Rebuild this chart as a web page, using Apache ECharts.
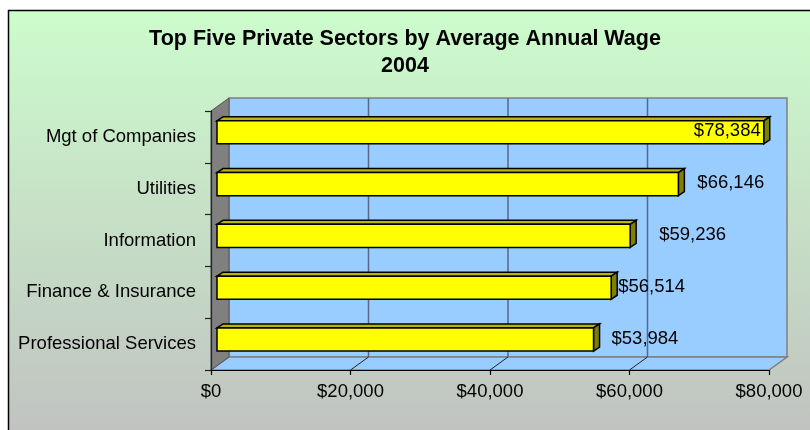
<!DOCTYPE html>
<html>
<head>
<meta charset="utf-8">
<script src="https://cdn.jsdelivr.net/npm/echarts@6/dist/echarts.min.js"></script>
<style>
html,body{margin:0;padding:0;background:#fff;}
#chart{width:810px;height:430px;}
</style>
</head>
<body>
<div id="chart"></div>
<script>
// ---- data ----
const categories = ['Mgt of Companies', 'Utilities', 'Information', 'Finance & Insurance', 'Professional Services'];
const wages = [78384, 66146, 59236, 56514, 53984];
const titleLines = ['Top Five Private Sectors by Average Annual Wage', '2004'];
const xTicks = { min: 0, max: 80000, interval: 20000 };

// ---- styling ----
const FONT = '"Liberation Sans", Arial, sans-serif';
const DEPTH = [18, -13];          // 3D wall depth
const BAR_SHIFT = [6, -4.6];      // bar face offset inside the depth
const BAR_DEPTH = [6, -4];        // bar box depth
const fmt = v => '$' + v.toLocaleString('en-US');
// label placement per bar (Excel style): 'in' = inside right, number = gap right of bar
const labelPlace = ['in', 19, 29, 7, 18];

const chart = echarts.init(document.getElementById('chart'), null, { renderer: 'canvas' });

const option = {
  animation: false,
  backgroundColor: '#ffffff',
  title: {
    text: titleLines.join('\n'),
    left: 'center',
    top: 26,
    padding: 0,
    textStyle: { fontFamily: FONT, fontWeight: 'bold', fontSize: 21.5, lineHeight: 27, color: '#000' }
  },
  graphic: [{
    type: 'rect',
    z: -100,
    shape: { x: 8.5, y: 10.5, width: 820, height: 440 },
    style: {
      fill: { type: 'linear', x: 0, y: 0, x2: 0, y2: 1,
        colorStops: [{ offset: 0, color: '#CCFCCC' }, { offset: 1, color: '#C0C0C0' }] },
      stroke: '#000', lineWidth: 1.5
    }
  }],
  grid: { left: 211, right: 41, top: 111, bottom: 60, containLabel: false, outerBoundsMode: 'none' },
  xAxis: {
    type: 'value',
    min: xTicks.min, max: xTicks.max, interval: xTicks.interval,
    axisLine: { show: true, lineStyle: { color: '#000', width: 1.2 } },
    axisTick: { show: true, length: 5, lineStyle: { color: '#000', width: 1.2 } },
    splitLine: { show: false },
    axisLabel: { margin: 12, fontFamily: FONT, fontSize: 18.5, color: '#000', formatter: v => fmt(v) }
  },
  yAxis: {
    type: 'category',
    data: categories,
    inverse: true,
    axisLine: { show: true, lineStyle: { color: '#222', width: 1.2 } },
    axisTick: { show: true, length: 6, lineStyle: { color: '#222', width: 1.2 } },
    splitLine: { show: false },
    axisLabel: { margin: 15, fontFamily: FONT, fontSize: 18.5, color: '#000' }
  },
  series: [
    {
      // walls / floor of the 3D plot area
      type: 'custom',
      z: -10,
      silent: true,
      data: [[0, 0]],
      renderItem: function (params, api) {
        const cs = params.coordSys;
        const x = cs.x, y = cs.y, w = cs.width, h = cs.height;
        const dx = DEPTH[0], dy = DEPTH[1];
        const children = [];
        children.push({ type: 'rect', shape: { x: x + dx, y: y + dy, width: w, height: h },
          style: { fill: '#99CCFF', stroke: '#808080', lineWidth: 1.5 } });
        children.push({ type: 'polygon', shape: { points: [[x, y + h], [x + dx, y + h + dy], [x + w + dx, y + h + dy], [x + w, y + h]] },
          style: { fill: '#99CCFF', stroke: '#808080', lineWidth: 1.5 } });
        children.push({ type: 'polygon', shape: { points: [[x, y], [x + dx, y + dy], [x + dx, y + h + dy], [x, y + h]] },
          style: { fill: '#808080', stroke: '#555', lineWidth: 1 } });
        const n = Math.round((xTicks.max - xTicks.min) / xTicks.interval);
        for (let i = 1; i < n; i++) {
          const px = api.coord([xTicks.min + i * xTicks.interval, 0])[0];
          children.push({ type: 'line', shape: { x1: px + dx, y1: y + dy, x2: px + dx, y2: y + h + dy },
            style: { stroke: '#56698A', lineWidth: 1.5 } });
          children.push({ type: 'line', shape: { x1: px, y1: y + h, x2: px + dx, y2: y + h + dy },
            style: { stroke: '#222', lineWidth: 1 } });
        }
        return { type: 'group', children: children };
      }
    },
    {
      type: 'custom',
      z: 10,
      data: wages.map((v, i) => [v, i]),
      encode: { x: 0, y: 1 },
      renderItem: function (params, api) {
        const idx = api.value(1);
        const val = api.value(0);
        const p0 = api.coord([0, idx]);
        const p1 = api.coord([val, idx]);
        const band = api.size([0, 1])[1];
        const hgt = band * 0.445;
        const x0 = p0[0] + BAR_SHIFT[0], x1 = p1[0] + BAR_SHIFT[0];
        const yc = p0[1] + BAR_SHIFT[1];
        const yt = yc - hgt / 2, yb = yc + hgt / 2;
        const bx = BAR_DEPTH[0], by = BAR_DEPTH[1];
        const stroke = { stroke: '#000', lineWidth: 1.5, lineJoin: 'miter' };
        const children = [
          { type: 'polygon', shape: { points: [[x0, yt], [x0 + bx, yt + by], [x1 + bx, yt + by], [x1, yt]] },
            style: Object.assign({ fill: '#B8B800' }, stroke) },
          { type: 'polygon', shape: { points: [[x1, yt], [x1 + bx, yt + by], [x1 + bx, yb + by], [x1, yb]] },
            style: Object.assign({ fill: '#808000' }, stroke) },
          { type: 'rect', shape: { x: x0, y: yt, width: x1 - x0, height: hgt },
            style: Object.assign({ fill: '#FFFF00' }, stroke) }
        ];
        const place = labelPlace[params.dataIndex];
        children.push({
          type: 'text',
          style: {
            text: fmt(val), fontFamily: FONT, fontSize: 18.5, fill: '#000',
            verticalAlign: 'middle',
            x: place === 'in' ? x1 - 3 : x1 + place,
            y: yc - 1,
            align: place === 'in' ? 'right' : 'left'
          },
          z2: 10
        });
        return { type: 'group', children: children };
      }
    }
  ]
};
chart.setOption(option);
</script>
</body>
</html>
